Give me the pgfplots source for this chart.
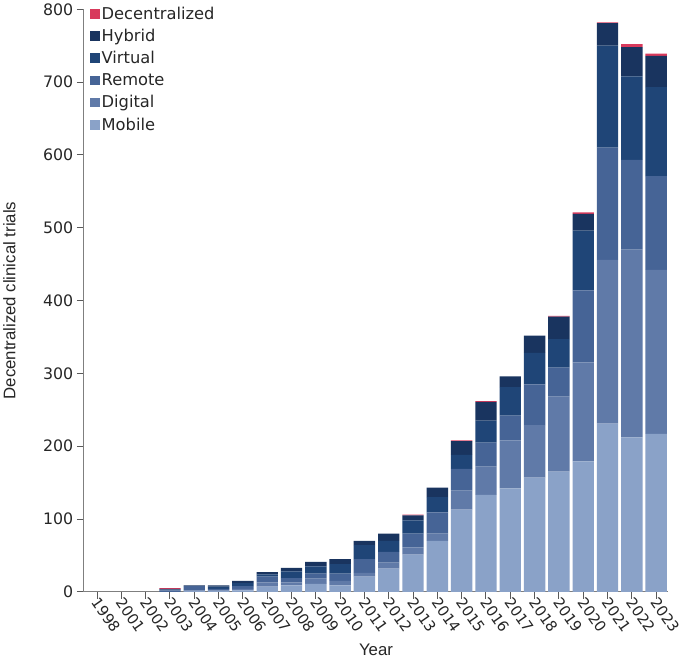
\documentclass[border=0pt]{standalone}
\usepackage{pgfplots}
\pgfplotsset{compat=1.18}
\usepackage{pgfplotstable}
\usepackage{fontspec}
\setmainfont{DejaVu Sans}
\newfontfamily\labfont{Liberation Sans}
\definecolor{cmob}{HTML}{8AA2C8}
\definecolor{cdig}{HTML}{607AA8}
\definecolor{crem}{HTML}{466496}
\definecolor{cvir}{HTML}{1F4577}
\definecolor{chyb}{HTML}{19345F}
\definecolor{cdec}{HTML}{D83A5C}
\definecolor{axgray}{HTML}{7F7F7F}
\pgfplotstableread{
x mob dig rem vir hyb dec
0 0 0 0 0 0 0
1 0 0 0 0 0 0
2 0 0 0 0 0 0
3 0 0 2 1 1 1
4 1 1 6 0 1 0
5 1 1 2 3 2 0
6 2 2 4 4 3 0
7 7 6 8 3 3 0
8 9 4 6 9 5 0
9 11 7 7 10 6 0
10 9 6 10 13 7 0
11 21 5 19 19 6 0
12 32 8 15 15 10 0
13 51 10 19 18 7 1
14 70 10 29 21 13 0
15 113 26 30 19 19 1
16 133 39 33 30 26 1
17 142 66 34 39 15 0
18 157 72 56 43 24 0
19 165 103 40 39 31 1
20 179 136 99 82 23 2
21 231 225 154 140 31 1
22 212 258 123 115 40 4
23 217 225 129 122 43 3
}\data
\begin{document}
\begin{tikzpicture}
\begin{axis}[
  scale only axis, width=590bp, height=588bp,
  ybar stacked, bar width=0.88,
  xmin=-0.55, xmax=23.5, ymin=0, ymax=800,
  axis x line=bottom, axis y line=left,
  axis line style={-, axgray, line width=1bp},
  tick style={axgray!70!black, line width=1bp},
  tick align=outside, major tick length=7bp,
  /pgf/number format/assume math mode=true,
  xtick={0,...,23},
  xticklabels={1998,2001,2002,2003,2004,2005,2006,2007,2008,2009,2010,2011,2012,2013,2014,2015,2016,2017,2018,2019,2020,2021,2022,2023},
  ytick={0,100,...,800},
  tick label style={font=\fontsize{16}{19}\selectfont, black!85},
  x tick label style={rotate=-55, anchor=west, xshift=-4bp, yshift=-2bp, font=\fontsize{15}{18}\selectfont},
  xlabel={Year},
  ylabel={Decentralized clinical trials},
  label style={font=\labfont\fontsize{17}{20}\selectfont, black!85},
  ylabel style={at={(rel axis cs:-0.127,0.5)}, anchor=center},
  xlabel style={yshift=-2bp},
  legend image code/.code={\fill[#1] (0bp,-5bp) rectangle (10bp,5bp);},
  legend style={at={(0.005,1.011)}, anchor=north west, draw=none, fill=none,
     font=\fontsize{16.5}{19}\selectfont, row sep=4.5bp, text=black!85},
  legend cell align=left,
  reverse legend,
]
\addplot[fill=cmob, draw=none] table[x=x, y=mob] {\data};
\addlegendentry{Mobile}
\addplot[fill=cdig, draw=none] table[x=x, y=dig] {\data};
\addlegendentry{Digital}
\addplot[fill=crem, draw=none] table[x=x, y=rem] {\data};
\addlegendentry{Remote}
\addplot[fill=cvir, draw=none] table[x=x, y=vir] {\data};
\addlegendentry{Virtual}
\addplot[fill=chyb, draw=none] table[x=x, y=hyb] {\data};
\addlegendentry{Hybrid}
\addplot[fill=cdec, draw=none] table[x=x, y=dec] {\data};
\addlegendentry{Decentralized}
\end{axis}
\end{tikzpicture}
\end{document}
